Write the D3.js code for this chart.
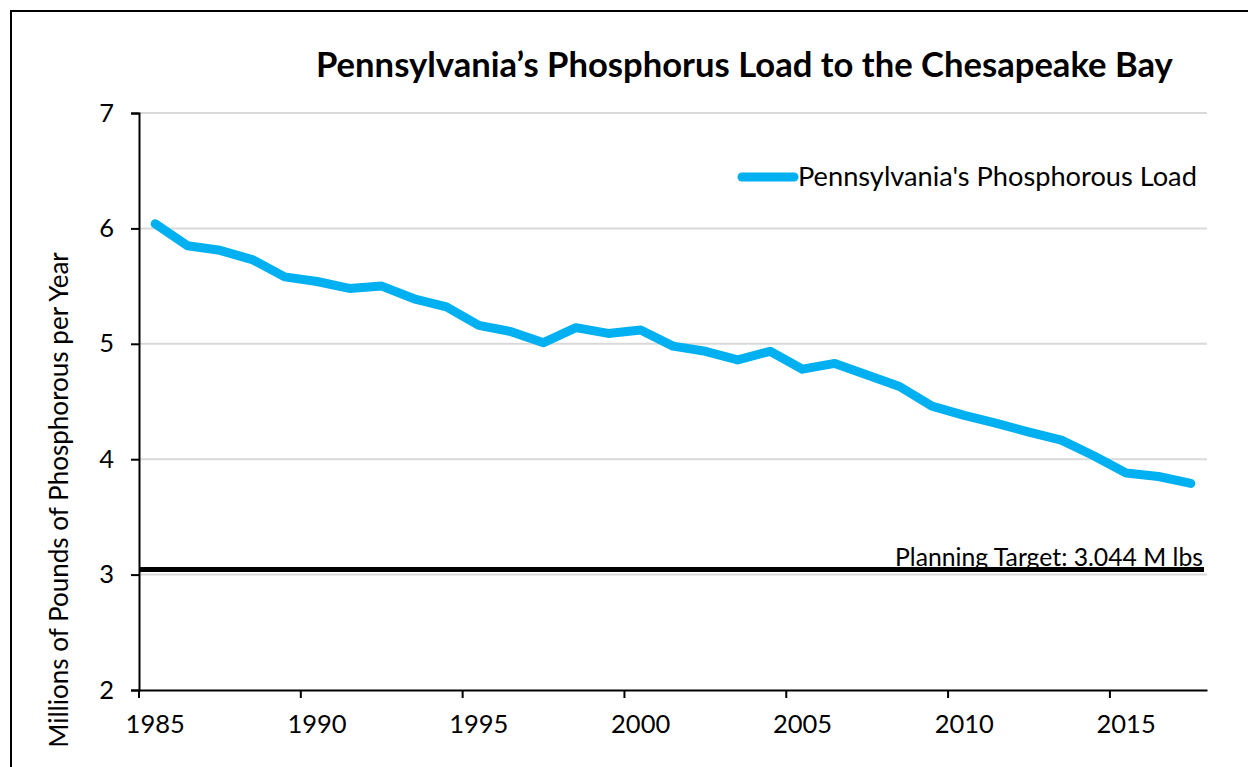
<!DOCTYPE html>
<html>
<head>
<meta charset="utf-8">
<script src="https://cdn.jsdelivr.net/npm/d3@7"></script>
<style>
  html, body { margin: 0; padding: 0; background: #fff; }
  svg { display: block; font-family: Lato, "Liberation Sans", sans-serif; }
</style>
</head>
<body>
<svg id="chart" width="1248" height="767"></svg>
<script>
// Annual phosphorus load, millions of pounds
const years = d3.range(1985, 2018);
const loads = [6.04, 5.85, 5.81, 5.73, 5.58, 5.54, 5.48, 5.50, 5.39, 5.32,
               5.16, 5.105, 5.01, 5.14, 5.09, 5.12, 4.98, 4.935, 4.86, 4.935,
               4.78, 4.83, 4.73, 4.63, 4.46, 4.38, 4.31, 4.235, 4.165, 4.03,
               3.88, 3.85, 3.79];
const yTicks = [2, 3, 4, 5, 6, 7];
const xTickYears = [1985, 1990, 1995, 2000, 2005, 2010, 2015];
const target = 3.044;
const titleText = "Pennsylvania\u2019s Phosphorus Load to the Chesapeake Bay";
const seriesName = "Pennsylvania's Phosphorous Load";
const targetLabel = "Planning Target: 3.044 M lbs";
const yTitle = "Millions of Pounds of Phosphorous per Year";

const svg = d3.select("#chart");
const plot = { left: 139, right: 1207, top: 113, bottom: 690 };
const blue = "#00B0F0";
const tickFont = 25.5;

// Fit a text element's font size so that it spans a given width
function fitWidth(sel, width) {
  const node = sel.node();
  const size = parseFloat(sel.attr("font-size"));
  const w = node.getComputedTextLength();
  sel.attr("font-size", (size * width / w).toFixed(2));
  return sel;
}

// outer frame
svg.append("rect")
  .attr("x", 11).attr("y", 11).attr("width", 1260).attr("height", 780)
  .attr("fill", "none").attr("stroke", "#000").attr("stroke-width", 2);

const x = d3.scaleBand().domain(years).range([plot.left, plot.right]).padding(0);
const y = d3.scaleLinear().domain([2, 7]).range([plot.bottom, plot.top]);
const cx = yr => x(yr) + x.bandwidth() / 2;

// horizontal gridlines
svg.append("g").selectAll("line")
  .data(yTicks.filter(t => t > 2))
  .join("line")
  .attr("x1", plot.left).attr("x2", plot.right)
  .attr("y1", d => y(d)).attr("y2", d => y(d))
  .attr("stroke", "#d9d9d9").attr("stroke-width", 2);

// y axis
const yAxis = svg.append("g")
  .attr("transform", `translate(${plot.left},0)`)
  .call(d3.axisLeft(y).tickValues(yTicks).tickSize(8).tickPadding(17).tickFormat(d3.format("d")));
yAxis.select(".domain").attr("stroke", "#000").attr("stroke-width", 2);
yAxis.selectAll(".tick line").attr("stroke", "#000").attr("stroke-width", 2);
yAxis.selectAll(".tick text")
  .attr("font-size", tickFont).attr("fill", "#000")
  .attr("font-family", "Lato, 'Liberation Sans', sans-serif");

// x axis: labels centred on categories, ticks on category boundaries
const xAxis = svg.append("g")
  .attr("transform", `translate(0,${plot.bottom})`)
  .call(d3.axisBottom(x).tickValues(xTickYears).tickSize(0).tickPadding(25));
xAxis.select(".domain").attr("stroke", "#000").attr("stroke-width", 2);
xAxis.selectAll(".tick text")
  .attr("font-size", tickFont).attr("fill", "#000")
  .attr("font-family", "Lato, 'Liberation Sans', sans-serif");
xAxis.selectAll(".tick").append("line")
  .attr("x1", -x.bandwidth() / 2).attr("x2", -x.bandwidth() / 2)
  .attr("y1", 0).attr("y2", 8)
  .attr("stroke", "#000").attr("stroke-width", 2);

// planning target line
svg.append("line")
  .attr("x1", plot.left + 1).attr("x2", plot.right - 3)
  .attr("y1", y(target)).attr("y2", y(target))
  .attr("stroke", "#000").attr("stroke-width", 5);

const tl = svg.append("text")
  .attr("x", 1203).attr("y", y(target) - 4)
  .attr("text-anchor", "end")
  .attr("font-size", 21).attr("fill", "#000")
  .text(targetLabel);
fitWidth(tl, 308);

// load series
const line = d3.line().x((d, i) => cx(years[i])).y(d => y(d));
svg.append("path")
  .datum(loads)
  .attr("d", line)
  .attr("fill", "none")
  .attr("stroke", blue).attr("stroke-width", 9)
  .attr("stroke-linecap", "round").attr("stroke-linejoin", "round");

// legend
svg.append("line")
  .attr("x1", 742).attr("x2", 794).attr("y1", 177).attr("y2", 177)
  .attr("stroke", blue).attr("stroke-width", 9).attr("stroke-linecap", "round");
const lg = svg.append("text")
  .attr("x", 798).attr("y", 186)
  .attr("font-size", 23).attr("fill", "#000")
  .text(seriesName);
fitWidth(lg, 399);

// title
const tt = svg.append("text")
  .attr("x", 316).attr("y", 77)
  .attr("font-size", 30).attr("font-weight", "bold").attr("fill", "#000")
  .text(titleText);
fitWidth(tt, 857);

// y axis title
const yt = svg.append("text")
  .attr("transform", `translate(68,${(252 + 748) / 2}) rotate(-90)`)
  .attr("text-anchor", "middle")
  .attr("font-size", 22).attr("fill", "#000")
  .text(yTitle);
fitWidth(yt, 496);
</script>
</body>
</html>
